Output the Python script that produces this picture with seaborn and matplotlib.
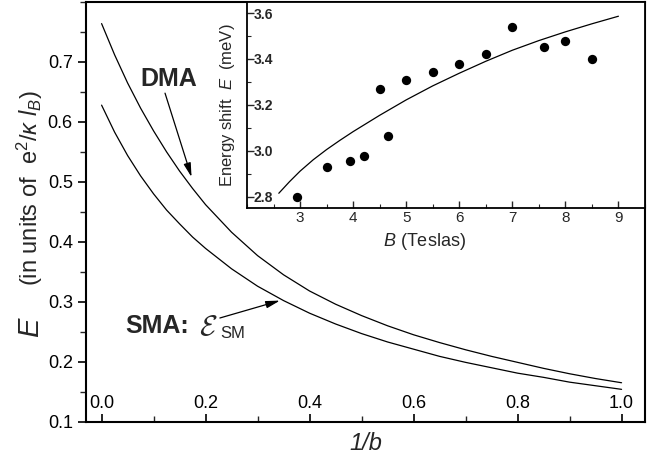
import matplotlib
matplotlib.use("Agg")
import matplotlib.pyplot as plt
import seaborn as sns
import pandas as pd
from matplotlib.ticker import MultipleLocator

# ---- data ----
inv_b = [0.0, 0.025, 0.05, 0.075, 0.1, 0.125, 0.15, 0.175, 0.2, 0.25, 0.3, 0.35,
         0.4, 0.45, 0.5, 0.55, 0.6, 0.65, 0.7, 0.75, 0.8, 0.85, 0.9, 0.95, 1.0]
dma = [0.764, 0.712, 0.665, 0.623, 0.585, 0.550, 0.518, 0.489, 0.462, 0.416, 0.377, 0.345,
       0.318, 0.296, 0.277, 0.260, 0.245, 0.232, 0.220, 0.209, 0.199, 0.189, 0.180, 0.172, 0.165]
sma = [0.628, 0.583, 0.544, 0.510, 0.480, 0.453, 0.430, 0.408, 0.389, 0.355, 0.326, 0.302,
       0.281, 0.263, 0.247, 0.233, 0.221, 0.209, 0.199, 0.190, 0.181, 0.174, 0.166, 0.160, 0.154]

b_meas = [2.95, 3.5, 3.95, 4.2, 4.5, 4.65, 5.0, 5.5, 6.0, 6.5, 7.0, 7.6, 8.0, 8.5]
e_meas = [2.80, 2.93, 2.957, 2.98, 3.27, 3.066, 3.31, 3.345, 3.38, 3.42, 3.54, 3.45, 3.48, 3.40]

b_fit = [2.6, 2.8, 3.0, 3.25, 3.5, 3.75, 4.0, 4.5, 5.0, 5.5, 6.0, 6.5, 7.0, 7.5, 8.0, 8.5, 9.0]
e_fit = [2.816, 2.866, 2.912, 2.962, 3.006, 3.046, 3.084, 3.155, 3.222, 3.283, 3.338, 3.39,
         3.438, 3.48, 3.518, 3.553, 3.586]

main_xticks = [0.0, 0.2, 0.4, 0.6, 0.8, 1.0]
main_yticks = [0.1, 0.2, 0.3, 0.4, 0.5, 0.6, 0.7]
inset_xticks = [3, 4, 5, 6, 7, 8, 9]
inset_yticks = [2.8, 3.0, 3.2, 3.4, 3.6]

sns.set_theme(style="ticks")
plt.rcParams["font.family"] = ["Liberation Sans", "DejaVu Sans"]
plt.rcParams["mathtext.fontset"] = "custom"
plt.rcParams["mathtext.rm"] = "Liberation Sans"
plt.rcParams["mathtext.it"] = "Liberation Sans:italic"
plt.rcParams["mathtext.bf"] = "Liberation Sans:bold"

df_main = pd.DataFrame({"x": inv_b * 2,
                        "y": dma + sma,
                        "curve": ["DMA"] * len(inv_b) + ["SMA"] * len(inv_b)})
df_meas = pd.DataFrame({"B": b_meas, "E": e_meas})
df_fit = pd.DataFrame({"B": b_fit, "E": e_fit})

fig = plt.figure(figsize=(6.63, 4.57), dpi=100)
ax = fig.add_axes([0.1297, 0.0772, 0.8431, 0.9184])

sns.lineplot(data=df_main, x="x", y="y", units="curve", estimator=None,
             color="black", linewidth=0.9, ax=ax, legend=False)

ax.set_xlim(-0.030, 1.045)
ax.set_ylim(0.1, 0.8)
ax.set_xticks(main_xticks)
ax.set_yticks(main_yticks)
ax.xaxis.set_minor_locator(MultipleLocator(0.1))
ax.yaxis.set_minor_locator(MultipleLocator(0.05))
ax.set_xticklabels([f"{v:.1f}" for v in main_xticks])
ax.set_yticklabels([f"{v:.1f}" for v in main_yticks])
ax.tick_params(axis="x", which="major", direction="in", length=6, width=1.2,
               labelsize=13, pad=-19, colors="black")
ax.tick_params(axis="x", which="minor", direction="in", length=4, width=1.0)
ax.tick_params(axis="y", which="major", direction="out", length=6, width=1.2,
               labelsize=13, colors="black")
ax.tick_params(axis="y", which="minor", direction="out", length=4, width=1.0)
for sp in ax.spines.values():
    sp.set_visible(True)
    sp.set_linewidth(1.5)
    sp.set_color("black")
ax.set_xlabel("1/b", fontsize=17, fontstyle="italic", labelpad=4)
ax.set_ylabel("")

fig.text(0.045, 0.2845, "E", fontsize=21, fontstyle="italic", rotation=90,
         ha="center", va="center")
fig.text(0.045, 0.5886, r"(in units of  $\mathrm{e}^2/\kappa\ l_B$)", fontsize=17,
         rotation=90, ha="center", va="center")

# annotations
ax.text(0.129, 0.671, "DMA", fontsize=18, fontweight="bold", ha="center", va="center")
ax.annotate("", xy=(0.173, 0.508), xytext=(0.122, 0.648),
            arrowprops=dict(arrowstyle="-|>,head_length=0.7,head_width=0.18",
                            color="black", lw=0.9, shrinkA=0, shrinkB=0))
ax.text(0.045, 0.248, "SMA:", fontsize=18, fontweight="bold", ha="left", va="baseline")
ax.text(0.187, 0.2445, r"$\mathcal{E}$", fontsize=21, ha="left", va="baseline",
        math_fontfamily="cm")
ax.text(0.2275, 0.2395, "SM", fontsize=12, ha="left", va="baseline")
ax.annotate("", xy=(0.343, 0.302), xytext=(0.2275, 0.273),
            arrowprops=dict(arrowstyle="-|>,head_length=0.7,head_width=0.18",
                            color="black", lw=0.9, shrinkA=0, shrinkB=0))

# inset
axin = fig.add_axes([0.3725, 0.5449, 0.6003, 0.4508])
axin.set_facecolor("white")
sns.lineplot(data=df_fit, x="B", y="E", color="black", linewidth=0.9, ax=axin)
sns.scatterplot(data=df_meas, x="B", y="E", color="black", s=45, edgecolor="black",
                linewidth=0, ax=axin)
axin.set_xlim(2.0, 9.5)
axin.set_ylim(2.752, 3.648)
axin.set_xticks(inset_xticks)
axin.set_yticks(inset_yticks)
axin.set_xticklabels([str(v) for v in inset_xticks])
axin.set_yticklabels([f"{v:.1f}" for v in inset_yticks])
axin.xaxis.set_minor_locator(MultipleLocator(0.5))
axin.yaxis.set_minor_locator(MultipleLocator(0.1))
axin.tick_params(axis="x", which="major", direction="in", length=5, width=1.0,
                 labelsize=11, pad=2)
axin.tick_params(axis="x", which="minor", direction="in", length=3, width=0.8)
axin.tick_params(axis="y", which="major", direction="in", length=5, width=1.0,
                 labelsize=10, pad=-5)
axin.tick_params(axis="y", which="minor", direction="in", length=3, width=0.8)
plt.setp(axin.get_yticklabels(), ha="left", fontweight="bold")
for sp in axin.spines.values():
    sp.set_visible(True)
    sp.set_linewidth(1.3)
    sp.set_color("black")
axin.set_xlabel(r"$B$ (Teslas)", fontsize=13, labelpad=1)
axin.xaxis.set_label_coords(0.447, -0.11)
axin.set_ylabel(r"Energy shift  $E$  (meV)", fontsize=12, labelpad=4)

fig.savefig("out.png", dpi=100)
